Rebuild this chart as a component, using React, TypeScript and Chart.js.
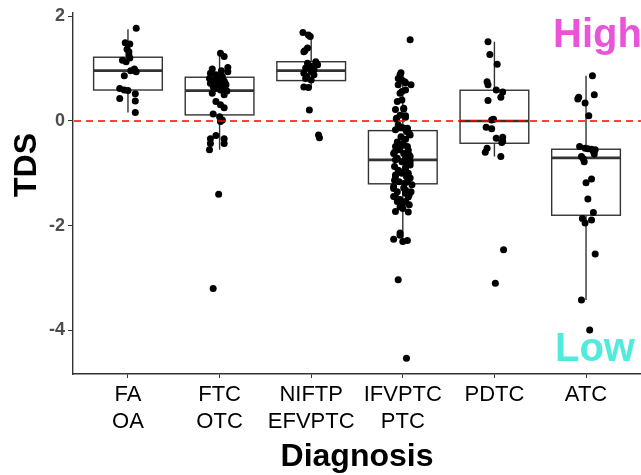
import React, { useEffect, useRef } from "react";
import { Chart, registerables } from "chart.js";

Chart.register(...registerables);

const FONT = "'Liberation Sans', Arial, Helvetica, sans-serif";

// Categories (two-line tick labels)
const categories: string[][] = [
  ["FA", "OA"],
  ["FTC", "OTC"],
  ["NIFTP", "EFVPTC"],
  ["IFVPTC", "PTC"],
  ["PDTC"],
  ["ATC"],
];
const yTicks = [-4, -2, 0, 2];

// Box statistics per category
const boxLow = [0.16, -0.55, 0.64, -2.3, -0.68, -3.42];
const boxQ1 = [0.59, 0.115, 0.77, -1.2, -0.426, -1.8];
const boxMedian = [0.96, 0.578, 0.96, -0.744, 0.0, -0.706];
const boxQ3 = [1.216, 0.834, 1.13, -0.185, 0.586, -0.54];
const boxHigh = [1.75, 1.29, 1.61, 0.94, 1.51, 0.86];

const faValues = [1.77, 1.49, 1.47, 1.37, 1.32, 1.26, 1.2, 1.16, 1.13, 0.99, 0.96, 0.94, 0.86, 0.62, 0.59, 0.58, 0.52, 0.43, 0.38, 0.16];
const faJitter = [0.09, -0.03, 0.02, -0.01, 0.01, 0.01, 0.02, -0.06, -0.02, 0.07, 0.03, 0.09, -0.04, -0.09, -0.04, 0.0, 0.08, -0.09, 0.08, 0.08];

const ftcValues = [1.29, 1.23, 1.02, 0.99, 0.94, 0.91, 0.88, 0.85, 0.81, 0.78, 0.76, 0.75, 0.72, 0.69, 0.69, 0.65, 0.62, 0.59, 0.53, 0.5, 0.37, 0.31, 0.25, 0.13, 0.08, 0.02, -0.01, -0.28, -0.34, -0.34, -0.43, -0.43, -0.55, -1.4, -3.2, 0.96, 0.72, 0.66, 0.57, 0.8];
const ftcJitter = [0.01, 0.05, 0.09, -0.08, 0.09, -0.1, -0.04, 0.03, -0.11, -0.06, 0.05, 0.0, -0.1, -0.02, 0.07, 0.03, -0.06, 0.01, -0.08, 0.05, -0.04, 0.01, 0.05, -0.07, 0.0, 0.03, 0.01, -0.04, -0.1, 0.05, -0.1, 0.05, -0.11, -0.01, -0.07, 0.02, 0.06, -0.07, 0.08, -0.03];

const niftpValues = [1.69, 1.64, 1.61, 1.39, 1.34, 1.32, 1.13, 1.1, 1.08, 1.07, 1.05, 1.04, 1.01, 0.98, 0.94, 0.91, 0.88, 0.85, 0.81, 0.78, 0.65, 0.64, 0.21, -0.27, -0.32];
const niftpJitter = [-0.09, -0.03, -0.01, -0.04, -0.07, -0.08, 0.05, -0.04, 0.06, 0.07, -0.02, 0.01, -0.06, 0.03, 0.0, -0.08, 0.03, -0.05, -0.06, 0.0, -0.08, -0.03, -0.02, 0.08, 0.09];

const ifvptcValues = [
  1.55, 0.92, 0.88, 0.81, 0.78, 0.75, 0.73, 0.69, 0.69, 0.59, 0.56, 0.53, 0.4, 0.37, 0.24, 0.22, 0.23, 0.11, 0.1, 0.07, 0.05, 0.03,
  -0.08, -0.12, -0.13, -0.14, -0.15, -0.17,
  -0.2, -0.24, -0.27, -0.3, -0.35, -0.4, -0.43, -0.46, -0.49, -0.49, -0.52, -0.55, -0.56, -0.6, -0.62, -0.62, -0.65, -0.68, -0.71, -0.71,
  -0.74, -0.74, -0.78, -0.78, -0.8, -0.84, -0.87, -0.89, -0.9, -0.94, -0.97, -1.0, -1.0, -1.03, -1.06, -1.06, -1.09, -1.13, -1.16, -1.16, -1.19, -1.22,
  -1.25, -1.28, -1.29, -1.32, -1.35, -1.35, -1.38, -1.41, -1.44, -1.45, -1.45, -1.5, -1.54, -1.54, -1.57, -1.6, -1.64, -1.67, -1.73, -1.74,
  -2.14, -2.18, -2.26, -2.28, -2.3, -3.03, -4.53,
];
const ifvptcJitter = [
  0.08, -0.02, -0.03, -0.05, -0.01, 0.02, 0.03, 0.09, -0.05, 0.03, -0.01, -0.03, -0.01, -0.06, 0.01, -0.08, 0.01, -0.03, 0.03, 0.03, -0.07, -0.07,
  -0.05, -0.04, 0.0, 0.05, 0.05, -0.08,
  0.04, 0.07, 0.08, -0.02, 0.03, -0.06, 0.0, 0.01, -0.08, 0.05, -0.03, -0.04, 0.06, -0.09, -0.1, 0.01, 0.07, 0.08, -0.06, 0.03,
  -0.08, 0.06, -0.01, 0.08, 0.04, 0.08, -0.09, 0.03, 0.03, -0.05, -0.03, 0.06, -0.01, -0.08, -0.08, 0.04, 0.08, -0.09, 0.05, -0.04, 0.02, 0.1,
  -0.1, 0.01, -0.1, 0.03, -0.06, 0.09, 0.03, 0.07, -0.1, -0.08, 0.06, -0.03, -0.06, 0.03, 0.0, 0.07, -0.03, 0.0, -0.08, 0.06,
  -0.03, -0.03, -0.1, 0.05, 0.0, -0.05, 0.04,
];

const pdtcValues = [1.51, 1.27, 1.08, 0.75, 0.69, 0.59, 0.55, 0.45, 0.39, 0.03, 0.02, -0.12, -0.15, -0.31, -0.33, -0.39, -0.41, -0.52, -0.6, -0.68, -2.46, -3.1];
const pdtcJitter = [-0.07, -0.05, 0.03, -0.08, -0.07, 0.02, 0.09, 0.07, -0.07, -0.01, -0.03, -0.09, -0.03, 0.09, 0.02, 0.09, 0.08, -0.08, -0.1, 0.07, 0.1, 0.01];

const atcValues = [0.86, 0.5, 0.45, 0.42, 0.34, 0.1, -0.49, -0.52, -0.53, -0.54, -0.55, -0.58, -0.63, -0.68, -0.72, -0.78, -1.18, -1.11, -1.49, -1.75, -1.86, -1.89, -1.95, -2.54, -3.42, -3.99];
const atcJitter = [0.07, 0.09, -0.08, -0.09, -0.01, 0.03, -0.07, -0.01, 0.02, 0.06, 0.1, 0.08, 0.09, -0.05, -0.03, -0.02, 0.0, 0.06, 0.02, 0.08, -0.04, 0.06, -0.01, 0.1, -0.05, 0.04];

const groupValues = [faValues, ftcValues, niftpValues, ifvptcValues, pdtcValues, atcValues];
const groupJitter = [faJitter, ftcJitter, niftpJitter, ifvptcJitter, pdtcJitter, atcJitter];

const BOX_WIDTH = 0.75;

const boxPlugin = {
  id: "boxes",
  beforeDatasetsDraw(chart: any) {
    const { ctx, scales } = chart;
    const x = scales.x;
    const y = scales.y;
    ctx.save();
    for (let i = 0; i < categories.length; i++) {
      const cx = x.getPixelForValue(i + 1);
      const l = x.getPixelForValue(i + 1 - BOX_WIDTH / 2);
      const r = x.getPixelForValue(i + 1 + BOX_WIDTH / 2);
      const yq1 = y.getPixelForValue(boxQ1[i]);
      const yq3 = y.getPixelForValue(boxQ3[i]);
      const ym = y.getPixelForValue(boxMedian[i]);
      const ylo = y.getPixelForValue(boxLow[i]);
      const yhi = y.getPixelForValue(boxHigh[i]);
      ctx.strokeStyle = "#333333";
      ctx.lineWidth = 1.4;
      ctx.beginPath();
      ctx.moveTo(cx, yq3);
      ctx.lineTo(cx, yhi);
      ctx.moveTo(cx, yq1);
      ctx.lineTo(cx, ylo);
      ctx.stroke();
      ctx.fillStyle = "#ffffff";
      ctx.fillRect(l, yq3, r - l, yq1 - yq3);
      ctx.strokeRect(l, yq3, r - l, yq1 - yq3);
      ctx.lineWidth = 2.6;
      ctx.beginPath();
      ctx.moveTo(l, ym);
      ctx.lineTo(r, ym);
      ctx.stroke();
    }
    ctx.restore();
  },
  afterDatasetsDraw(chart: any) {
    const { ctx, scales, chartArea } = chart;
    const y0 = scales.y.getPixelForValue(0);
    ctx.save();
    ctx.strokeStyle = "#FF0000";
    ctx.lineWidth = 1.4;
    ctx.setLineDash([7, 5]);
    ctx.beginPath();
    ctx.moveTo(chartArea.left + 1, y0);
    ctx.lineTo(chartArea.right, y0);
    ctx.stroke();
    ctx.restore();
  },
  afterDraw(chart: any) {
    const { ctx, chartArea } = chart;
    ctx.save();
    ctx.fillStyle = "#000000";
    ctx.font = `bold 32px ${FONT}`;
    ctx.textAlign = "center";
    ctx.textBaseline = "middle";
    ctx.translate(27, 165);
    ctx.rotate(-Math.PI / 2);
    ctx.fillText("TDS", 0, 0);
    ctx.restore();

    ctx.save();
    ctx.fillStyle = "#000000";
    ctx.font = `bold 32px ${FONT}`;
    ctx.textAlign = "center";
    ctx.textBaseline = "alphabetic";
    ctx.fillText("Diagnosis", (chartArea.left + chartArea.right) / 2, 466);

    ctx.textAlign = "left";
    ctx.font = `bold 40px ${FONT}`;
    ctx.fillStyle = "#E954D9";
    ctx.fillText("High", 553, 47);
    ctx.fillStyle = "#4FEBDC";
    ctx.fillText("Low", 555, 361);
    ctx.restore();
  },
};

export default function App() {
  const canvasRef = useRef<HTMLCanvasElement | null>(null);

  useEffect(() => {
    if (!canvasRef.current) return;
    const datasets = groupValues.map((vals, g) => ({
      type: "scatter" as const,
      label: categories[g].join(" "),
      data: vals.map((v, i) => ({ x: g + 1 + groupJitter[g][i], y: v })),
      backgroundColor: "#000000",
      borderWidth: 0,
      pointRadius: 3.5,
      pointHoverRadius: 3.5,
      clip: false,
    }));

    const chart = new Chart(canvasRef.current, {
      type: "scatter",
      data: { datasets },
      plugins: [boxPlugin],
      options: {
        responsive: false,
        animation: false,
        devicePixelRatio: 1,
        layout: { autoPadding: false, padding: { top: 13, right: 0, left: 0, bottom: 0 } },
        plugins: {
          legend: { display: false },
          tooltip: { enabled: false },
        },
        scales: {
          x: {
            type: "linear",
            min: 0.4,
            max: 6.6,
            afterBuildTicks: (scale: any) => {
              scale.ticks = categories.map((_, i) => ({ value: i + 1 }));
            },
            afterFit: (scale: any) => {
              scale.height = 101;
              scale.paddingLeft = 0;
              scale.paddingRight = 0;
            },
            ticks: {
              autoSkip: false,
              maxRotation: 0,
              minRotation: 0,
              padding: 3,
              color: "#000000",
              font: { family: FONT, size: 22, lineHeight: 1.23 },
              callback: (v: any) => categories[Math.round(Number(v)) - 1] ?? "",
            },
            grid: {
              display: true,
              drawOnChartArea: false,
              drawTicks: true,
              tickLength: 4,
              color: "#333333",
              lineWidth: 1,
            },
            border: { display: true, color: "#333333", width: 1.4 },
          },
          y: {
            type: "linear",
            min: -4.83,
            max: 2.06,
            afterBuildTicks: (scale: any) => {
              scale.ticks = yTicks.map((v) => ({ value: v }));
            },
            afterFit: (scale: any) => {
              scale.width = 73;
              scale.paddingTop = 0;
              scale.paddingBottom = 0;
            },
            ticks: {
              padding: 3,
              color: "#4D4D4D",
              font: { family: FONT, size: 18, weight: "bold" },
              callback: (v: any) => String(v),
            },
            grid: {
              display: true,
              drawOnChartArea: false,
              drawTicks: true,
              tickLength: 5,
              color: "#333333",
              lineWidth: 1,
            },
            border: { display: true, color: "#333333", width: 1.4 },
          },
        },
      },
    } as any);

    return () => {
      chart.destroy();
    };
  }, []);

  return (
    <div style={{ position: "absolute", left: 0, top: 0, width: 641, height: 475, background: "#ffffff" }}>
      <canvas ref={canvasRef} width={641} height={475} style={{ display: "block" }} />
    </div>
  );
}
